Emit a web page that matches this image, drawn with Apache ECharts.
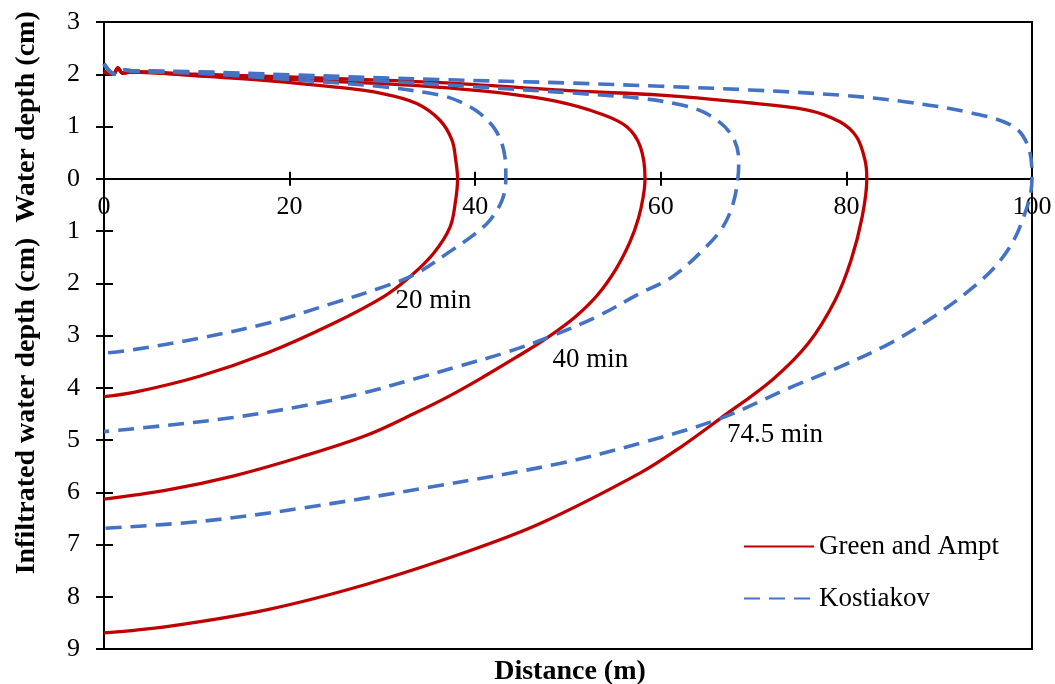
<!DOCTYPE html>
<html><head><meta charset="utf-8">
<script src="https://cdn.jsdelivr.net/npm/echarts@6/dist/echarts.min.js"></script>
<style>html,body{margin:0;padding:0;background:#fff}#c{width:1055px;height:684px}</style>
</head><body><div id="c"></div>
<script>
// ---- data (distance m, depth cm; negative = infiltrated depth) ----
const ga20 = [[0,2.05],[1,2.0],[1.5,2.12],[2,2.02],[3,2.04],[10,1.97],[17.5,1.88],[24.7,1.76],[30,1.63],[33.7,1.44],[36.2,1.12],[37.5,0.74],[37.9,0.36],[38.1,0],[37.9,-0.4],[37.3,-0.92],[35.5,-1.43],[33,-1.87],[30.1,-2.26],[24.7,-2.77],[17.5,-3.34],[10.3,-3.78],[3.2,-4.09],[0,-4.17]];
const ga40 = [[0,2.05],[1,2.0],[1.5,2.12],[2,2.02],[3,2.04],[10,1.98],[20,1.9],[30,1.82],[36.2,1.75],[43.4,1.63],[48.8,1.48],[53.4,1.25],[56.3,1.0],[57.8,0.61],[58.3,0],[58.1,-0.35],[57.6,-0.75],[56.7,-1.2],[55.2,-1.72],[53.2,-2.22],[50.8,-2.64],[47.7,-3.05],[44.3,-3.43],[40.9,-3.79],[37.3,-4.15],[33.7,-4.47],[28.3,-4.91],[21.1,-5.33],[13.9,-5.69],[6.75,-5.96],[0,-6.13]];
const ga745 = [[0,2.05],[1,2.0],[1.5,2.12],[2,2.02],[3,2.05],[10,2.0],[20,1.95],[36.2,1.84],[50.6,1.68],[60,1.6],[68.5,1.47],[75.7,1.32],[79.3,1.09],[81.1,0.8],[82,0.36],[82.2,0],[81.7,-0.73],[80.5,-1.56],[78.8,-2.32],[75.9,-3.15],[72.0,-3.85],[66.4,-4.59],[62.2,-5.13],[57.8,-5.63],[47,-6.6],[39.1,-7.14],[28.3,-7.76],[17.5,-8.25],[6.75,-8.57],[0,-8.69]];
const k20 = [[0,2.2],[0.5,2.08],[1.2,2.0],[2.2,2.08],[3,2.06],[10,2.02],[20,1.9],[30,1.76],[36.2,1.6],[38.4,1.47],[40.5,1.25],[42.3,0.9],[43.2,0.42],[43.3,0],[42.9,-0.41],[41.6,-0.79],[39.8,-1.08],[37.3,-1.39],[33.7,-1.81],[30.1,-2.07],[24.7,-2.38],[17.5,-2.77],[10.3,-3.05],[3.2,-3.27],[0,-3.34]];
const k40 = [[0,2.2],[0.5,2.08],[1.2,2.0],[2.2,2.08],[3,2.06],[10,2.03],[20,1.96],[30,1.87],[40,1.76],[50.6,1.64],[57.8,1.54],[62,1.42],[64.9,1.25],[67.5,0.87],[68.4,0.36],[68.3,0],[67.8,-0.47],[66.7,-0.92],[64.9,-1.3],[61.3,-1.87],[57.8,-2.19],[53.1,-2.64],[48.1,-3.02],[43.4,-3.32],[38,-3.6],[33.7,-3.82],[27.5,-4.12],[21.1,-4.36],[13.9,-4.57],[6.75,-4.72],[0,-4.84]];
const k745 = [[0,2.2],[0.5,2.08],[1.2,2.0],[2.2,2.08],[3,2.07],[10,2.05],[20,1.99],[36,1.9],[50.6,1.83],[60,1.77],[69.6,1.7],[79.3,1.6],[86.5,1.47],[93.7,1.25],[98,1.0],[99.6,0.61],[100,0],[98.7,-0.92],[96.6,-1.56],[93.7,-2.07],[89.4,-2.64],[84.7,-3.15],[79.3,-3.6],[73.9,-4.0],[66.4,-4.59],[57.8,-5.06],[49.1,-5.45],[35.5,-5.89],[21.1,-6.31],[10.3,-6.56],[0,-6.69]];
const seriesNames = ['Green and Ampt','Kostiakov'];
const annotations = [['20 min',35.5,-2.34],['40 min',52.4,-3.47],['74.5 min',72.3,-4.9]];
const xMin = 0, xMax = 100, xStep = 20;
const yMin = -9, yMax = 3, yStep = 1;

const FONT = 'Liberation Serif';
const chart = echarts.init(document.getElementById('c'), null, {renderer:'canvas'});
const red = '#C00000', blue = '#4472C4';
function gaSeries(d){return {name:seriesNames[0],type:'line',data:d,showSymbol:false,symbol:'none',smooth:0.35,
  lineStyle:{color:red,width:3.3},itemStyle:{color:red},z:2};}
function kSeries(d){return {name:seriesNames[1],type:'line',data:d,showSymbol:false,symbol:'none',smooth:0.35,
  lineStyle:{color:blue,width:3.6,type:[16,9]},itemStyle:{color:blue},z:3};}
const axisLineStyle = {color:'#000',width:2};
const baseY = {type:'value',min:yMin,max:yMax,interval:yStep,position:'left',
  axisLine:{show:true,onZero:false,lineStyle:axisLineStyle},splitLine:{show:false}};
chart.setOption({
  animation:false,
  backgroundColor:'#fff',
  grid:{left:104,right:23,top:22,bottom:35,show:true,borderColor:'#000',borderWidth:2,containLabel:false,outerBoundsMode:'none'},
  xAxis:[
    {type:'value',min:xMin,max:xMax,interval:xStep,position:'bottom',offset:0,
     axisLine:{show:true,onZero:false,lineStyle:axisLineStyle},splitLine:{show:false},
     axisTick:{show:true,inside:false,length:7,lineStyle:{color:'#000',width:2}},
     axisLabel:{show:true,margin:15,color:'#000',fontFamily:FONT,fontSize:26,showMinLabel:true,showMaxLabel:true}},
    {type:'value',min:xMin,max:xMax,interval:xStep,position:'bottom',offset:0,
     axisLine:{show:true,onZero:false,lineStyle:axisLineStyle},splitLine:{show:false},
     axisTick:{show:true,inside:true,length:7,lineStyle:{color:'#000',width:2}},axisLabel:{show:false}}
  ],
  yAxis:[
    Object.assign({},baseY,{axisTick:{show:true,inside:false,length:8,lineStyle:{color:'#000',width:2}},
      axisLabel:{show:true,margin:24,color:'#000',fontFamily:FONT,fontSize:26,formatter:v=>String(Math.abs(v))}}),
    Object.assign({},baseY,{axisTick:{show:true,inside:true,length:9,lineStyle:{color:'#000',width:2}},axisLabel:{show:false}})
  ],
  legend:{data:seriesNames,orient:'vertical',left:743,top:533,padding:0,itemWidth:70,itemHeight:14,itemGap:25,
    itemStyle:{opacity:0},
    textStyle:{fontFamily:FONT,fontSize:27,color:'#000'}},
  series:[gaSeries(ga20),gaSeries(ga40),gaSeries(ga745),kSeries(k20),kSeries(k40),kSeries(k745)]
});
// move the x axis up to the y = 0 line (computed through the y scale)
function placeXAxis(){
  const zeroPx = chart.convertToPixel({yAxisIndex:0}, 0);
  const bottomPx = chart.convertToPixel({yAxisIndex:0}, yMin);
  const off = zeroPx - bottomPx;
  chart.setOption({xAxis:[{offset:off},{offset:off}]});
}
placeXAxis();
placeXAxis();
const g = [];
annotations.forEach(a=>{
  const p = chart.convertToPixel({gridIndex:0},[a[1],a[2]]);
  g.push({type:'text',x:p[0],y:p[1],style:{text:a[0],fontFamily:FONT,fontSize:27,fill:'#000',align:'center',verticalAlign:'middle'},z:10});
});
g.push({type:'text',x:570,y:672,style:{text:'Distance (m)',fontFamily:FONT,fontSize:28,fontWeight:'bold',fill:'#000',align:'center',verticalAlign:'middle'}});
g.push({type:'text',x:27,y:117,rotation:Math.PI/2,style:{text:'Water depth (cm)',fontFamily:FONT,fontSize:28,fontWeight:'bold',fill:'#000',align:'center',verticalAlign:'middle'}});
g.push({type:'text',x:27,y:406,rotation:Math.PI/2,style:{text:'Infiltrated water depth (cm)',fontFamily:FONT,fontSize:28,fontWeight:'bold',fill:'#000',align:'center',verticalAlign:'middle'}});
chart.setOption({graphic:g});
</script></body></html>
